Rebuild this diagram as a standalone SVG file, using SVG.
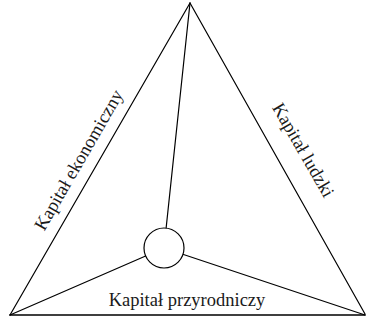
<svg xmlns="http://www.w3.org/2000/svg" width="366" height="322" viewBox="0 0 366 322">
<style>
.edge{stroke:#000;stroke-width:1.2;fill:none;stroke-linecap:round}
.lbl{font-family:"Liberation Serif","Times New Roman",serif;font-size:18.5px;fill:#1a1a1a;text-anchor:middle}
</style>
<rect width="366" height="322" fill="#fff"/>
<g id="connectors">
<line class="edge" x1="190" y1="3" x2="10" y2="315"/>
<line class="edge" x1="190" y1="3" x2="365" y2="314"/>
<line class="edge" x1="10" y1="315" x2="365" y2="315" style="stroke-width:1.6"/>
<line class="edge" x1="190" y1="3" x2="164" y2="248"/>
<line class="edge" x1="10" y1="315" x2="164" y2="248"/>
<line class="edge" x1="365" y1="315" x2="164" y2="248"/>
</g>
<g id="center">
<circle cx="164" cy="248" r="20" fill="#fff" stroke="#000" stroke-width="1.2"/>
</g>
<g id="kapital-ekonomiczny">
<text class="lbl" transform="translate(84,163) rotate(-60)">Kapitał ekonomiczny</text>
</g>
<g id="kapital-ludzki">
<text class="lbl" transform="translate(298,153) rotate(60)">Kapitał ludzki</text>
</g>
<g id="kapital-przyrodniczy">
<text class="lbl" x="187" y="306">Kapitał przyrodniczy</text>
</g>
</svg>
